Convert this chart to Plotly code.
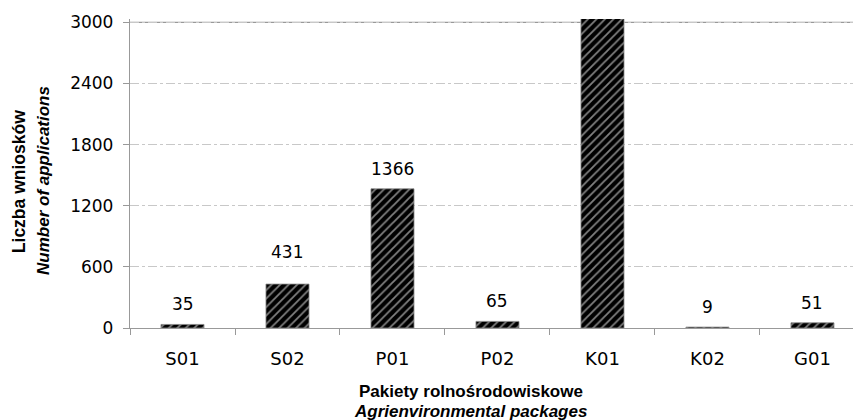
import plotly.graph_objects as go

categories = ["S01", "S02", "P01", "P02", "K01", "K02", "G01"]
values = [35, 431, 1366, 65, 3040, 9, 51]
labels = ["35", "431", "1366", "65", "", "9", "51"]
y_ticks = [0, 600, 1200, 1800, 2400, 3000]

label_shift = [8, 20, 8, 8, 8, 8, 8]
FONT = "Liberation Sans, Arial, sans-serif"
NUMFONT = "DejaVu Sans, sans-serif"

fig = go.Figure()
fig.add_trace(go.Bar(
    x=categories, y=values, width=0.41,
    marker=dict(color="black",
                line=dict(color="#888888", width=0.8),
                pattern=dict(shape="/", fgcolor="white", bgcolor="black",
                             size=6, solidity=0.3, fillmode="overlay")),
    showlegend=False,
))

for c, v, t, s in zip(categories, values, labels, label_shift):
    if t:
        fig.add_annotation(x=c, y=v, text=t, showarrow=False, yanchor="bottom",
                           yshift=s, font=dict(size=17, color="black", family=NUMFONT))

fig.add_shape(type="line", xref="paper", yref="y", x0=0, x1=1, y0=3000, y1=3000,
              line=dict(color="#999999", width=1.3), layer="below")

fig.add_annotation(xref="paper", yref="paper", x=-0.1535, y=0.472, textangle=-90,
                   text="<b>Liczba wniosków</b>",
                   showarrow=False, font=dict(size=17.5, color="black", family=FONT),
                   xanchor="center", yanchor="middle")
fig.add_annotation(xref="paper", yref="paper", x=-0.119, y=0.479, textangle=-90,
                   text="<b><i>Number of applications</i></b>",
                   showarrow=False, font=dict(size=17, color="black", family=FONT),
                   xanchor="center", yanchor="middle")
fig.add_annotation(xref="paper", yref="paper", x=0.4716, y=-0.205,
                   text="<b>Pakiety rolnośrodowiskowe</b>",
                   showarrow=False, font=dict(size=17, color="black", family=FONT),
                   xanchor="center", yanchor="middle")
fig.add_annotation(xref="paper", yref="paper", x=0.4716, y=-0.269,
                   text="<b><i>Agrienvironmental packages</i></b>",
                   showarrow=False, font=dict(size=17, color="black", family=FONT),
                   xanchor="center", yanchor="middle")

fig.update_layout(
    width=853, height=420,
    margin=dict(l=130, r=0, t=19, b=92),
    plot_bgcolor="white", paper_bgcolor="white",
    font=dict(family=NUMFONT, color="black", size=16),
    xaxis=dict(type="category", range=[-0.5, 6.386], showgrid=False,
               showline=True, linecolor="#999999", linewidth=1.3,
               ticks="outside", ticklen=6, tickcolor="#999999", tickson="boundaries",
               ticklabelstandoff=14,
               tickfont=dict(size=18, color="black", family=NUMFONT)),
    yaxis=dict(range=[0, 3033], tickvals=y_ticks, ticktext=[str(v) for v in y_ticks],
               showgrid=True, gridcolor="#c8c8c8", griddash="dashdot", gridwidth=1,
               showline=True, linecolor="#999999", linewidth=1.3,
               ticks="outside", ticklen=6, tickcolor="#999999",
               ticklabelstandoff=6,
               tickfont=dict(size=17, color="black", family=NUMFONT), zeroline=False),
)

fig.write_html("out.html", config={"displayModeBar": False},
               post_script="document.body.style.margin='0';")
